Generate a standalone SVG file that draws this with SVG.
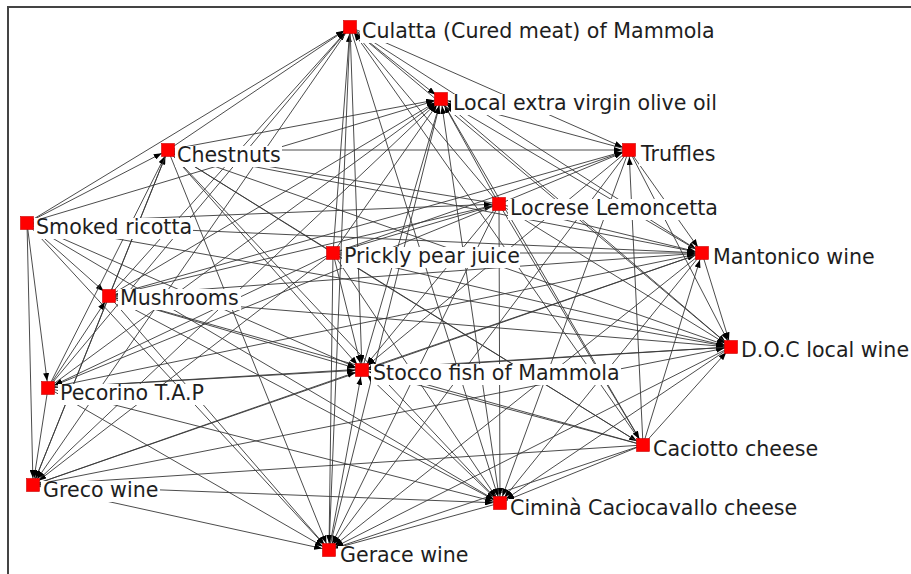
<svg xmlns="http://www.w3.org/2000/svg" width="911" height="574" viewBox="0 0 911 574">
<style>
.e{stroke:#383838;stroke-width:0.9;fill:none;marker-end:url(#arr)}
.lb{fill:#fff}
.t{font-family:"DejaVu Sans","Liberation Sans",sans-serif;font-size:20.6px;fill:#1e1e1e}
.n{fill:#f00;stroke:#c00;stroke-width:0.6}
</style>
<defs>
<marker id="arr" viewBox="0 0 8 6" refX="15" refY="3" markerWidth="8" markerHeight="6" markerUnits="userSpaceOnUse" orient="auto">
<path d="M0,0 L8,3 L0,6 z" fill="#000"/>
</marker>
</defs>
<rect x="0" y="0" width="911" height="574" fill="#fff"/>
<rect x="8" y="7" width="910" height="575" fill="none" stroke="#444" stroke-width="2"/>
<g id="edges">
<line class="e" x1="27" y1="223" x2="499" y2="204"/>
<line class="e" x1="27" y1="223" x2="48" y2="388"/>
<line class="e" x1="27" y1="223" x2="109" y2="296"/>
<line class="e" x1="27" y1="223" x2="168" y2="150"/>
<line class="e" x1="27" y1="223" x2="350" y2="27"/>
<line class="e" x1="27" y1="223" x2="33" y2="485"/>
<line class="e" x1="27" y1="223" x2="702" y2="253"/>
<line class="e" x1="27" y1="223" x2="731" y2="347"/>
<line class="e" x1="27" y1="223" x2="500" y2="503"/>
<line class="e" x1="27" y1="223" x2="329" y2="550"/>
<line class="e" x1="27" y1="223" x2="362" y2="370"/>
<line class="e" x1="27" y1="223" x2="441" y2="99"/>
<line class="e" x1="333" y1="253" x2="643" y2="445"/>
<line class="e" x1="333" y1="253" x2="499" y2="204"/>
<line class="e" x1="333" y1="253" x2="48" y2="388"/>
<line class="e" x1="333" y1="253" x2="168" y2="150"/>
<line class="e" x1="333" y1="253" x2="350" y2="27"/>
<line class="e" x1="333" y1="253" x2="629" y2="150"/>
<line class="e" x1="333" y1="253" x2="33" y2="485"/>
<line class="e" x1="333" y1="253" x2="702" y2="253"/>
<line class="e" x1="333" y1="253" x2="731" y2="347"/>
<line class="e" x1="333" y1="253" x2="500" y2="503"/>
<line class="e" x1="333" y1="253" x2="329" y2="550"/>
<line class="e" x1="333" y1="253" x2="362" y2="370"/>
<line class="e" x1="333" y1="253" x2="441" y2="99"/>
<line class="e" x1="643" y1="445" x2="109" y2="296"/>
<line class="e" x1="643" y1="445" x2="168" y2="150"/>
<line class="e" x1="643" y1="445" x2="350" y2="27"/>
<line class="e" x1="643" y1="445" x2="629" y2="150"/>
<line class="e" x1="643" y1="445" x2="33" y2="485"/>
<line class="e" x1="643" y1="445" x2="702" y2="253"/>
<line class="e" x1="643" y1="445" x2="731" y2="347"/>
<line class="e" x1="643" y1="445" x2="500" y2="503"/>
<line class="e" x1="643" y1="445" x2="329" y2="550"/>
<line class="e" x1="643" y1="445" x2="362" y2="370"/>
<line class="e" x1="643" y1="445" x2="441" y2="99"/>
<line class="e" x1="499" y1="204" x2="643" y2="445"/>
<line class="e" x1="499" y1="204" x2="48" y2="388"/>
<line class="e" x1="499" y1="204" x2="109" y2="296"/>
<line class="e" x1="499" y1="204" x2="168" y2="150"/>
<line class="e" x1="499" y1="204" x2="350" y2="27"/>
<line class="e" x1="499" y1="204" x2="629" y2="150"/>
<line class="e" x1="499" y1="204" x2="702" y2="253"/>
<line class="e" x1="499" y1="204" x2="731" y2="347"/>
<line class="e" x1="499" y1="204" x2="500" y2="503"/>
<line class="e" x1="499" y1="204" x2="329" y2="550"/>
<line class="e" x1="499" y1="204" x2="362" y2="370"/>
<line class="e" x1="499" y1="204" x2="441" y2="99"/>
<line class="e" x1="48" y1="388" x2="109" y2="296"/>
<line class="e" x1="48" y1="388" x2="168" y2="150"/>
<line class="e" x1="48" y1="388" x2="350" y2="27"/>
<line class="e" x1="48" y1="388" x2="33" y2="485"/>
<line class="e" x1="48" y1="388" x2="702" y2="253"/>
<line class="e" x1="48" y1="388" x2="731" y2="347"/>
<line class="e" x1="48" y1="388" x2="500" y2="503"/>
<line class="e" x1="48" y1="388" x2="329" y2="550"/>
<line class="e" x1="48" y1="388" x2="362" y2="370"/>
<line class="e" x1="48" y1="388" x2="441" y2="99"/>
<line class="e" x1="109" y1="296" x2="168" y2="150"/>
<line class="e" x1="109" y1="296" x2="350" y2="27"/>
<line class="e" x1="109" y1="296" x2="629" y2="150"/>
<line class="e" x1="109" y1="296" x2="33" y2="485"/>
<line class="e" x1="109" y1="296" x2="702" y2="253"/>
<line class="e" x1="109" y1="296" x2="731" y2="347"/>
<line class="e" x1="109" y1="296" x2="500" y2="503"/>
<line class="e" x1="109" y1="296" x2="329" y2="550"/>
<line class="e" x1="109" y1="296" x2="362" y2="370"/>
<line class="e" x1="109" y1="296" x2="441" y2="99"/>
<line class="e" x1="168" y1="150" x2="350" y2="27"/>
<line class="e" x1="168" y1="150" x2="629" y2="150"/>
<line class="e" x1="168" y1="150" x2="33" y2="485"/>
<line class="e" x1="168" y1="150" x2="702" y2="253"/>
<line class="e" x1="168" y1="150" x2="731" y2="347"/>
<line class="e" x1="168" y1="150" x2="500" y2="503"/>
<line class="e" x1="168" y1="150" x2="329" y2="550"/>
<line class="e" x1="168" y1="150" x2="362" y2="370"/>
<line class="e" x1="168" y1="150" x2="441" y2="99"/>
<line class="e" x1="350" y1="27" x2="629" y2="150"/>
<line class="e" x1="350" y1="27" x2="33" y2="485"/>
<line class="e" x1="350" y1="27" x2="702" y2="253"/>
<line class="e" x1="350" y1="27" x2="731" y2="347"/>
<line class="e" x1="350" y1="27" x2="500" y2="503"/>
<line class="e" x1="350" y1="27" x2="329" y2="550"/>
<line class="e" x1="350" y1="27" x2="362" y2="370"/>
<line class="e" x1="350" y1="27" x2="441" y2="99"/>
<line class="e" x1="629" y1="150" x2="702" y2="253"/>
<line class="e" x1="629" y1="150" x2="731" y2="347"/>
<line class="e" x1="629" y1="150" x2="500" y2="503"/>
<line class="e" x1="629" y1="150" x2="329" y2="550"/>
<line class="e" x1="629" y1="150" x2="362" y2="370"/>
<line class="e" x1="629" y1="150" x2="441" y2="99"/>
<line class="e" x1="33" y1="485" x2="702" y2="253"/>
<line class="e" x1="33" y1="485" x2="731" y2="347"/>
<line class="e" x1="33" y1="485" x2="500" y2="503"/>
<line class="e" x1="33" y1="485" x2="329" y2="550"/>
<line class="e" x1="33" y1="485" x2="362" y2="370"/>
<line class="e" x1="33" y1="485" x2="441" y2="99"/>
<line class="e" x1="702" y1="253" x2="731" y2="347"/>
<line class="e" x1="702" y1="253" x2="500" y2="503"/>
<line class="e" x1="702" y1="253" x2="329" y2="550"/>
<line class="e" x1="702" y1="253" x2="362" y2="370"/>
<line class="e" x1="702" y1="253" x2="441" y2="99"/>
<line class="e" x1="731" y1="347" x2="500" y2="503"/>
<line class="e" x1="731" y1="347" x2="329" y2="550"/>
<line class="e" x1="731" y1="347" x2="362" y2="370"/>
<line class="e" x1="731" y1="347" x2="441" y2="99"/>
<line class="e" x1="500" y1="503" x2="329" y2="550"/>
<line class="e" x1="500" y1="503" x2="362" y2="370"/>
<line class="e" x1="500" y1="503" x2="441" y2="99"/>
<line class="e" x1="329" y1="550" x2="362" y2="370"/>
<line class="e" x1="329" y1="550" x2="441" y2="99"/>
<line class="e" x1="362" y1="370" x2="441" y2="99"/>
</g>
<g id="culatta"><rect class="lb" x="360" y="22" width="355" height="21"/><text class="t" x="362" y="38">Culatta (Cured meat) of Mammola</text><rect class="n" x="343.5" y="20.5" width="13" height="13"/></g>
<g id="oliveoil"><rect class="lb" x="451" y="94" width="264" height="21"/><text class="t" x="453" y="110">Local extra virgin olive oil</text><rect class="n" x="434.5" y="92.5" width="13" height="13"/></g>
<g id="chestnuts"><rect class="lb" x="175" y="146" width="107" height="21"/><text class="t" x="177" y="162">Chestnuts</text><rect class="n" x="161.5" y="143.5" width="13" height="13"/></g>
<g id="truffles"><rect class="lb" x="639" y="145" width="81" height="21"/><text class="t" x="641" y="161">Truffles</text><rect class="n" x="622.5" y="143.5" width="13" height="13"/></g>
<g id="smokedricotta"><rect class="lb" x="34" y="218" width="159" height="21"/><text class="t" x="36" y="234">Smoked ricotta</text><rect class="n" x="20.5" y="216.5" width="13" height="13"/></g>
<g id="lemoncetta"><rect class="lb" x="508" y="199" width="208" height="21"/><text class="t" x="510" y="215">Locrese Lemoncetta</text><rect class="n" x="492.5" y="197.5" width="13" height="13"/></g>
<g id="pricklypear"><rect class="lb" x="342" y="247" width="178" height="21"/><text class="t" x="344" y="263">Prickly pear juice</text><rect class="n" x="326.5" y="246.5" width="13" height="13"/></g>
<g id="mantonico"><rect class="lb" x="711" y="248" width="164" height="21"/><text class="t" x="713" y="264">Mantonico wine</text><rect class="n" x="695.5" y="246.5" width="13" height="13"/></g>
<g id="mushrooms"><rect class="lb" x="118" y="289" width="123" height="21"/><text class="t" x="120" y="305">Mushrooms</text><rect class="n" x="102.5" y="289.5" width="13" height="13"/></g>
<g id="docwine"><rect class="lb" x="739" y="341" width="171" height="21"/><text class="t" x="741" y="357">D.O.C local wine</text><rect class="n" x="724.5" y="340.5" width="13" height="13"/></g>
<g id="stocco"><rect class="lb" x="371" y="364" width="250" height="21"/><text class="t" x="373" y="380">Stocco fish of Mammola</text><rect class="n" x="355.5" y="363.5" width="13" height="13"/></g>
<g id="pecorino"><rect class="lb" x="58" y="384" width="153" height="21"/><text class="t" x="60" y="400">Pecorino T.A.P</text><rect class="n" x="41.5" y="381.5" width="13" height="13"/></g>
<g id="caciotto"><rect class="lb" x="651" y="440" width="164" height="21"/><text class="t" x="653" y="456">Caciotto cheese</text><rect class="n" x="636.5" y="438.5" width="13" height="13"/></g>
<g id="greco"><rect class="lb" x="41" y="481" width="119" height="21"/><text class="t" x="43" y="497">Greco wine</text><rect class="n" x="26.5" y="478.5" width="13" height="13"/></g>
<g id="cimina"><rect class="lb" x="508" y="499" width="283" height="21"/><text class="t" x="510" y="515">Ciminà Caciocavallo cheese</text><rect class="n" x="493.5" y="496.5" width="13" height="13"/></g>
<g id="gerace"><rect class="lb" x="338" y="546" width="102" height="21"/><text class="t" x="340" y="562">Gerace wine</text><rect class="n" x="322.5" y="543.5" width="13" height="13"/></g>
</svg>
